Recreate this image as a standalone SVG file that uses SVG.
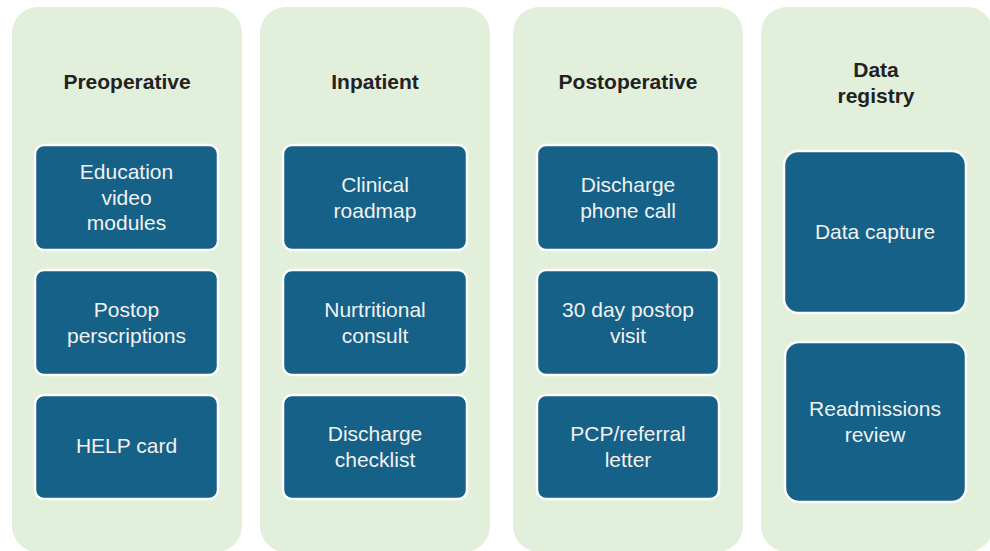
<svg xmlns="http://www.w3.org/2000/svg" width="990" height="551" viewBox="0 0 990 551">
<style>
.panel{fill:#e2efda;}
.box{fill:#156188;stroke:#ffffff;stroke-width:2.5;}
.h{font-family:"Liberation Sans",Arial,sans-serif;font-size:21px;font-weight:bold;fill:#222222;text-anchor:middle;}
.t{font-family:"Liberation Sans",Arial,sans-serif;font-size:21px;fill:#f2f2f2;text-anchor:middle;}
</style>
<rect width="990" height="551" fill="#ffffff"/>
<g id="panel-preoperative">
<rect class="panel" x="12" y="7" width="230" height="545" rx="26"/>
<text class="h" x="127" y="89">Preoperative</text>
</g>
<g id="panel-inpatient">
<rect class="panel" x="260" y="7" width="230" height="545" rx="26"/>
<text class="h" x="375" y="89">Inpatient</text>
</g>
<g id="panel-postoperative">
<rect class="panel" x="513" y="7" width="230" height="545" rx="26"/>
<text class="h" x="628" y="89">Postoperative</text>
</g>
<g id="panel-registry">
<rect class="panel" x="761" y="7" width="232" height="545" rx="26"/>
<text class="h" x="876" y="77">Data</text>
<text class="h" x="876" y="103">registry</text>
</g>
<g id="connectors"></g>
<g id="n-education">
<rect class="box" x="35" y="145" width="183" height="105" rx="9"/>
<text class="t" x="126.5" y="179">Education</text>
<text class="t" x="126.5" y="204.5">video</text>
<text class="t" x="126.5" y="230">modules</text>
</g>
<g id="n-postop-rx">
<rect class="box" x="35" y="270" width="183" height="105" rx="9"/>
<text class="t" x="126.5" y="317">Postop</text>
<text class="t" x="126.5" y="342.5">perscriptions</text>
</g>
<g id="n-help">
<rect class="box" x="35" y="395" width="183" height="104" rx="9"/>
<text class="t" x="126.5" y="453">HELP card</text>
</g>
<g id="n-roadmap">
<rect class="box" x="283" y="145" width="184" height="105" rx="9"/>
<text class="t" x="375" y="192">Clinical</text>
<text class="t" x="375" y="217.5">roadmap</text>
</g>
<g id="n-nutrition">
<rect class="box" x="283" y="270" width="184" height="105" rx="9"/>
<text class="t" x="375" y="317">Nurtritional</text>
<text class="t" x="375" y="342.5">consult</text>
</g>
<g id="n-checklist">
<rect class="box" x="283" y="395" width="184" height="104" rx="9"/>
<text class="t" x="375" y="441">Discharge</text>
<text class="t" x="375" y="466.5">checklist</text>
</g>
<g id="n-phone">
<rect class="box" x="537" y="145" width="182" height="105" rx="9"/>
<text class="t" x="628" y="192">Discharge</text>
<text class="t" x="628" y="217.5">phone call</text>
</g>
<g id="n-visit">
<rect class="box" x="537" y="270" width="182" height="105" rx="9"/>
<text class="t" x="628" y="317">30 day postop</text>
<text class="t" x="628" y="342.5">visit</text>
</g>
<g id="n-letter">
<rect class="box" x="537" y="395" width="182" height="104" rx="9"/>
<text class="t" x="628" y="441">PCP/referral</text>
<text class="t" x="628" y="466.5">letter</text>
</g>
<g id="n-capture">
<rect class="box" x="784" y="151" width="182" height="162" rx="14"/>
<text class="t" x="875" y="239">Data capture</text>
</g>
<g id="n-readmissions">
<rect class="box" x="785" y="342" width="181" height="160" rx="14"/>
<text class="t" x="875" y="416">Readmissions</text>
<text class="t" x="875" y="442">review</text>
</g>
</svg>
